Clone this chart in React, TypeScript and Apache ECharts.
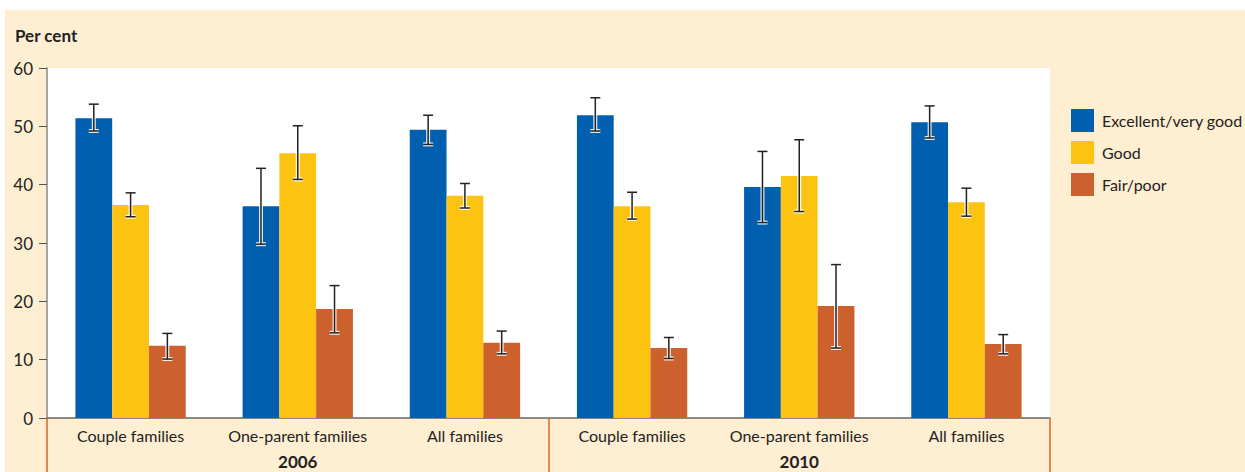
import React, { useEffect, useRef } from "react";
import * as echarts from "echarts";

const categories = ["Couple families", "One-parent families", "All families", "Couple families", "One-parent families", "All families"];
const years = ["2006", "2010"];
const seriesNames = ["Excellent/very good", "Good", "Fair/poor"];
const excellent = [51.4, 36.3, 49.4, 51.9, 39.6, 50.7];
const good = [36.5, 45.4, 38.1, 36.3, 41.5, 37.0];
const fair = [12.4, 18.7, 12.9, 12.0, 19.2, 12.7];
const excellentLow = [49.2, 29.8, 46.9, 49.2, 33.5, 48.0];
const excellentHigh = [53.8, 42.8, 51.9, 54.9, 45.7, 53.5];
const goodLow = [34.5, 40.9, 36.0, 34.1, 35.4, 34.6];
const goodHigh = [38.6, 50.1, 40.2, 38.7, 47.7, 39.4];
const fairLow = [10.1, 14.6, 11.0, 10.2, 12.0, 11.0];
const fairHigh = [14.5, 22.7, 14.9, 13.8, 26.3, 14.3];
const yTicks = { min: 0, max: 60, interval: 10 };

const colors = ["#0060AF", "#FDC311", "#CC612D"];
const FONT = "Lato, 'Liberation Sans', sans-serif";
const CAT_GAP = 0.34;

function errorSeries(idx: number, lows: number[], highs: number[]) {
  return {
    type: "custom",
    name: "err" + idx,
    xAxisIndex: 0,
    yAxisIndex: 0,
    z: 5,
    encode: { x: 0, y: [1, 2] },
    data: lows.map((l, i) => [i, l, highs[i]]),
    renderItem: (params: any, api: any) => {
      const c = api.value(0);
      const pLo = api.coord([c, api.value(1)]);
      const pHi = api.coord([c, api.value(2)]);
      const band = api.size([1, 0])[0];
      const barW = (band * (1 - CAT_GAP)) / 3;
      const cx = pLo[0] + (idx - 1) * barW;
      const hw = 5;
      const mk = (stroke: string, w: number) => [
        { type: "line", shape: { x1: cx, y1: pHi[1], x2: cx, y2: pLo[1] }, style: { stroke, lineWidth: w } },
        { type: "line", shape: { x1: cx - hw, y1: pHi[1], x2: cx + hw, y2: pHi[1] }, style: { stroke, lineWidth: w } },
        { type: "line", shape: { x1: cx - hw, y1: pLo[1], x2: cx + hw, y2: pLo[1] }, style: { stroke, lineWidth: w } },
      ];
      return {
        type: "group",
        children: [...mk("rgba(255,255,255,0.85)", 4), ...mk("#222", 1.5)],
      };
    },
  };
}

export default function App() {
  const ref = useRef<HTMLDivElement>(null);
  useEffect(() => {
    if (!ref.current) return;
    const chart = echarts.init(ref.current, undefined, { renderer: "svg" });
    const barBase = { type: "bar", barGap: "0%", barCategoryGap: CAT_GAP * 100 + "%", xAxisIndex: 0, yAxisIndex: 0 };
    chart.setOption({
      animation: false,
      backgroundColor: "#ffffff",
      textStyle: { fontFamily: FONT },
      graphic: [
        { type: "rect", z: -10, shape: { x: 5, y: 10, width: 1240, height: 462 }, style: { fill: "#FFEFD2" } },
        { type: "text", left: 15, top: 27, style: { text: "Per cent", fontFamily: FONT, fontWeight: "bold", fontSize: 17, fill: "#222" } },
      ],
      grid: { left: 47, top: 68, right: 195, bottom: 54, show: true, backgroundColor: "#ffffff", borderWidth: 0 },
      legend: {
        orient: "vertical",
        left: 1071,
        top: 109,
        padding: 0,
        itemWidth: 23,
        itemHeight: 23,
        itemGap: 9,
        icon: "rect",
        data: seriesNames,
        textStyle: { fontFamily: FONT, fontSize: 16, color: "#222", padding: [0, 0, 0, 3] },
      },
      xAxis: [
        {
          type: "category",
          data: categories,
          position: "bottom",
          axisLine: { show: true, lineStyle: { color: "#666", width: 1.5 } },
          axisTick: { show: false },
          axisLabel: { interval: 0, margin: 9, fontSize: 16, color: "#222", fontFamily: FONT },
        },
        {
          type: "category",
          data: years,
          position: "bottom",
          axisLine: { show: false },
          axisTick: { show: true, length: 54, interval: 0, lineStyle: { color: "#D9652A", width: 1.5 } },
          axisLabel: { interval: 0, margin: 35, fontSize: 17, fontWeight: "bold", color: "#222", fontFamily: FONT },
        },
      ],
      yAxis: {
        type: "value",
        min: yTicks.min,
        max: yTicks.max,
        interval: yTicks.interval,
        axisLine: { show: true, lineStyle: { color: "#8a8a8a", width: 1.5 } },
        axisTick: { show: true, length: 8, lineStyle: { color: "#555" } },
        splitLine: { show: false },
        axisLabel: { fontSize: 17, color: "#222", margin: 14, fontFamily: FONT },
      },
      series: [
        { ...barBase, name: seriesNames[0], data: excellent, itemStyle: { color: colors[0] } },
        { ...barBase, name: seriesNames[1], data: good, itemStyle: { color: colors[1] } },
        { ...barBase, name: seriesNames[2], data: fair, itemStyle: { color: colors[2] } },
        errorSeries(0, excellentLow, excellentHigh),
        errorSeries(1, goodLow, goodHigh),
        errorSeries(2, fairLow, fairHigh),
      ],
    });
    return () => chart.dispose();
  }, []);
  return <div ref={ref} style={{ position: "absolute", left: 0, top: 0, width: 1245, height: 472 }} />;
}
